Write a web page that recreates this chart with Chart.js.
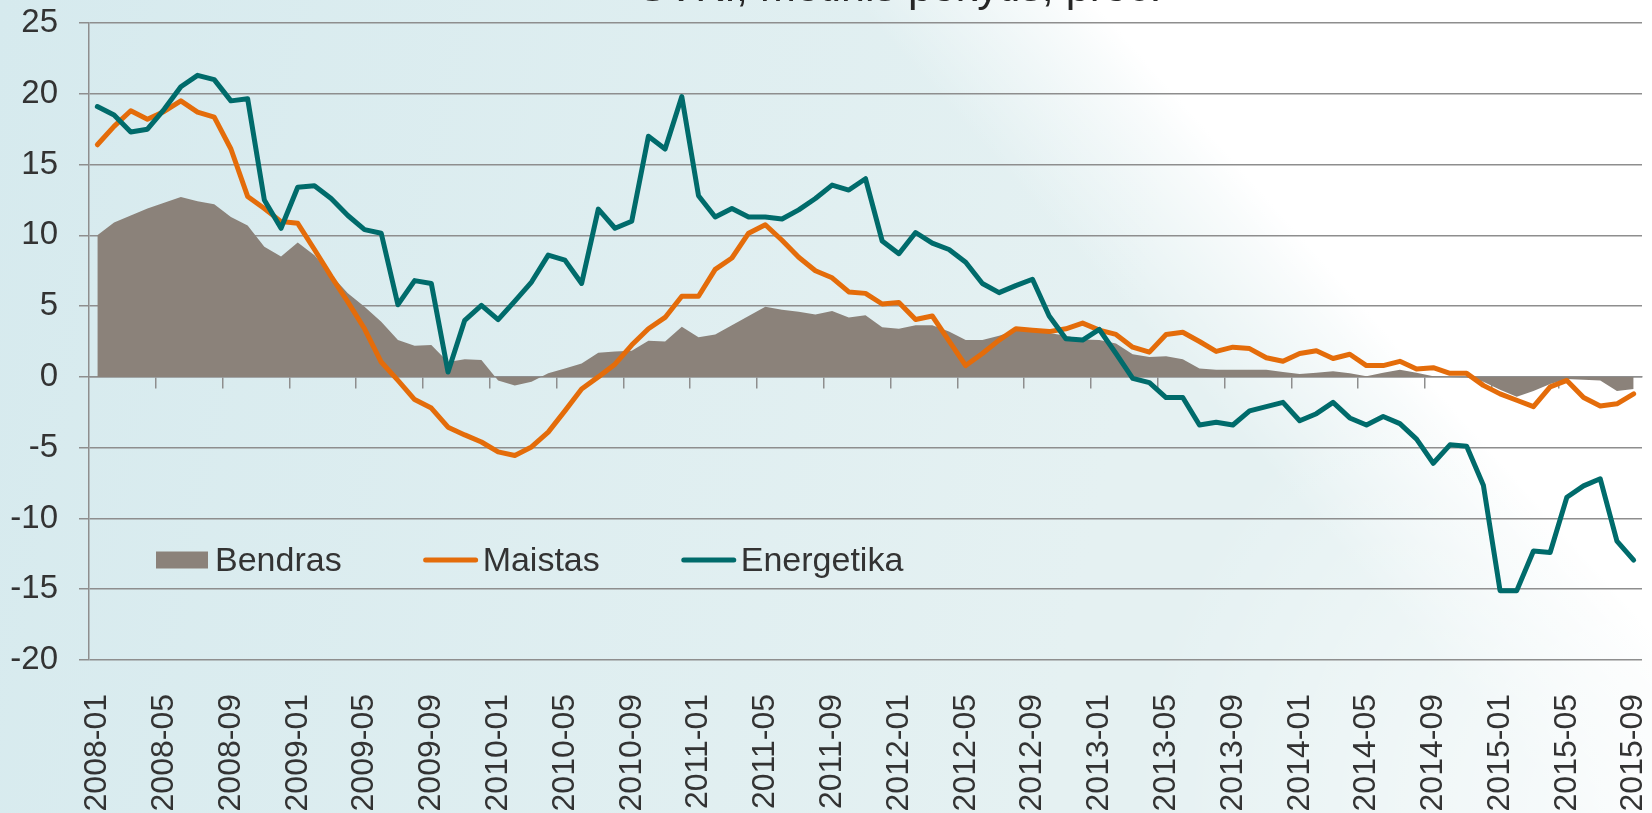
<!DOCTYPE html>
<html>
<head>
<meta charset="utf-8">
<script src="https://cdn.jsdelivr.net/npm/chart.js@4/dist/chart.umd.min.js"></script>
<style>
html,body{margin:0;padding:0;background:#fff;}
#wrap{position:relative;width:1652px;height:813px;}
</style>
</head>
<body>
<div id="wrap"><canvas id="c"></canvas></div>
<script>
// ---- DATA ----
const months = [
 '2008-01','2008-02','2008-03','2008-04','2008-05','2008-06','2008-07','2008-08','2008-09','2008-10','2008-11','2008-12',
 '2009-01','2009-02','2009-03','2009-04','2009-05','2009-06','2009-07','2009-08','2009-09','2009-10','2009-11','2009-12',
 '2010-01','2010-02','2010-03','2010-04','2010-05','2010-06','2010-07','2010-08','2010-09','2010-10','2010-11','2010-12',
 '2011-01','2011-02','2011-03','2011-04','2011-05','2011-06','2011-07','2011-08','2011-09','2011-10','2011-11','2011-12',
 '2012-01','2012-02','2012-03','2012-04','2012-05','2012-06','2012-07','2012-08','2012-09','2012-10','2012-11','2012-12',
 '2013-01','2013-02','2013-03','2013-04','2013-05','2013-06','2013-07','2013-08','2013-09','2013-10','2013-11','2013-12',
 '2014-01','2014-02','2014-03','2014-04','2014-05','2014-06','2014-07','2014-08','2014-09','2014-10','2014-11','2014-12',
 '2015-01','2015-02','2015-03','2015-04','2015-05','2015-06','2015-07','2015-08','2015-09'
];
const bendras = [
 10.0,10.9,11.4,11.9,12.3,12.7,12.4,12.2,11.3,10.7,9.2,8.5,
 9.5,8.6,7.2,5.9,4.95,3.9,2.6,2.2,2.25,1.05,1.25,1.2,
 -0.25,-0.6,-0.35,0.25,0.6,0.95,1.7,1.8,1.85,2.55,2.5,3.55,
 2.8,3.0,3.65,4.3,4.95,4.75,4.6,4.4,4.65,4.2,4.35,3.5,
 3.4,3.65,3.65,3.2,2.6,2.6,2.9,3.3,3.25,3.1,2.9,2.65,
 2.6,2.35,1.6,1.4,1.45,1.25,0.6,0.5,0.5,0.5,0.5,0.35,
 0.2,0.3,0.4,0.25,0.05,0.3,0.5,0.3,0.05,0.0,-0.05,-0.35,
 -0.9,-1.4,-1.0,-0.5,-0.15,-0.2,-0.25,-1.0,-0.85
];
const maistas = [
 16.4,17.7,18.8,18.2,18.75,19.5,18.7,18.35,16.1,12.75,11.9,10.97,
 10.85,9.0,7.1,5.3,3.4,1.05,-0.25,-1.6,-2.2,-3.55,-4.1,-4.6,
 -5.3,-5.55,-4.95,-3.9,-2.4,-0.85,0.0,0.9,2.25,3.4,4.2,5.7,
 5.7,7.6,8.4,10.15,10.75,9.65,8.45,7.5,7.0,6.0,5.9,5.15,
 5.25,4.05,4.3,2.55,0.8,1.65,2.6,3.4,3.3,3.2,3.4,3.8,
 3.3,3.0,2.1,1.75,3.0,3.15,2.5,1.8,2.1,2.0,1.35,1.1,
 1.65,1.85,1.3,1.6,0.8,0.8,1.1,0.55,0.65,0.25,0.25,-0.6,
 -1.2,-1.65,-2.1,-0.7,-0.25,-1.45,-2.05,-1.9,-1.2
];
const energetika = [
 19.1,18.5,17.3,17.5,18.9,20.5,21.3,21.0,19.5,19.65,12.5,10.5,
 13.4,13.5,12.6,11.4,10.4,10.15,5.1,6.8,6.6,0.35,4.0,5.05,
 4.05,5.35,6.7,8.6,8.25,6.6,11.85,10.5,11.0,17.0,16.1,19.8,
 12.8,11.3,11.9,11.3,11.3,11.15,11.8,12.6,13.55,13.2,14.0,9.6,
 8.7,10.2,9.45,9.0,8.1,6.6,5.95,6.45,6.9,4.3,2.7,2.6,
 3.35,1.65,-0.1,-0.4,-1.46,-1.46,-3.4,-3.2,-3.4,-2.4,-2.1,-1.8,
 -3.1,-2.6,-1.8,-2.9,-3.4,-2.8,-3.3,-4.4,-6.1,-4.8,-4.9,-7.65,
 -15.1,-15.1,-12.3,-12.4,-8.5,-7.7,-7.2,-11.6,-12.95
];
const seriesNames = ['Bendras','Maistas','Energetika'];
const yMin = -20, yMax = 25, yStep = 5;
const titleText = 'SVKI, metinis pokytis, proc.';

// ---- STYLE ----
const FONT = "'Liberation Sans', Arial, sans-serif";
const GRID = '#8e8e8e';
const TXT = '#333333';
const C_B = '#8b827a', C_M = '#e46c0a', C_E = '#006b6b';

const bgPlugin = {
  id: 'bg',
  beforeDraw(chart) {
    const {ctx, width, height} = chart;
    ctx.save();
    const g = ctx.createLinearGradient(0, 0, width * 0.7, height * 0.3);
    g.addColorStop(0, '#d6eaee');
    g.addColorStop(1, '#e5f1f2');
    ctx.fillStyle = g;
    ctx.fillRect(0, 0, width, height);
    const nx = 0.749, ny = -0.663, px = 1052, py = 0;
    const g2 = ctx.createLinearGradient(px - nx * 150, py - ny * 150, px + nx * 30, py + ny * 30);
    g2.addColorStop(0, 'rgba(255,255,255,0)');
    g2.addColorStop(0.5, 'rgba(255,255,255,0.45)');
    g2.addColorStop(0.8, 'rgba(255,255,255,0.75)');
    g2.addColorStop(1, 'rgba(255,255,255,1)');
    ctx.fillStyle = g2;
    ctx.fillRect(0, 0, width, height);
    const g3 = ctx.createRadialGradient(width, height, 0, width, height, 520);
    g3.addColorStop(0, 'rgba(255,255,255,0.8)');
    g3.addColorStop(1, 'rgba(255,255,255,0)');
    ctx.fillStyle = g3;
    ctx.fillRect(0, 0, width, height);
    // cut title (only its lower part is visible)
    ctx.fillStyle = '#262626';
    ctx.font = '43px ' + FONT;
    ctx.textAlign = 'left';
    ctx.textBaseline = 'alphabetic';
    ctx.fillText(titleText, 638, 0.5);
    ctx.restore();
  }
};

const legendPlugin = {
  id: 'customLegend',
  afterDatasetsDraw(chart) {
    const {ctx, chartArea} = chart;
    const x0 = chartArea.left + 67;
    const cy = chartArea.top + 537;
    const sw = 54, gap = 5, spacing = 82;
    ctx.save();
    ctx.font = '34px ' + FONT;
    ctx.textBaseline = 'alphabetic';
    ctx.textAlign = 'left';
    let x = x0;
    chart.data.datasets.forEach((ds, i) => {
      if (i === 0) {
        ctx.fillStyle = ds.backgroundColor;
        ctx.fillRect(x, cy - 8.5, sw - 2, 17);
      } else {
        ctx.strokeStyle = ds.borderColor;
        ctx.lineWidth = 5;
        ctx.lineCap = 'round';
        ctx.beginPath();
        ctx.moveTo(x + 2, cy);
        ctx.lineTo(x + sw - 2, cy);
        ctx.stroke();
      }
      ctx.fillStyle = TXT;
      const tx = x + sw + gap;
      ctx.fillText(ds.label, tx, cy + 11);
      x = tx + ctx.measureText(ds.label).width + spacing;
    });
    ctx.restore();
  }
};

new Chart(document.getElementById('c'), {
  type: 'line',
  data: {
    labels: months,
    datasets: [
      {label: seriesNames[0], data: bendras, fill: 'origin', backgroundColor: C_B, borderColor: C_B,
       borderWidth: 0, pointRadius: 0, tension: 0, order: 3},
      {label: seriesNames[1], data: maistas, fill: false, borderColor: C_M, backgroundColor: C_M,
       borderWidth: 5, pointRadius: 0, tension: 0, borderJoinStyle: 'round', borderCapStyle: 'round', order: 2},
      {label: seriesNames[2], data: energetika, fill: false, borderColor: C_E, backgroundColor: C_E,
       borderWidth: 5, pointRadius: 0, tension: 0, borderJoinStyle: 'round', borderCapStyle: 'round', order: 1}
    ]
  },
  options: {
    responsive: true,
    maintainAspectRatio: false,
    animation: false,
    events: [],
    layout: {padding: {top: 23, right: 10, left: 0, bottom: 0}},
    plugins: {legend: {display: false}, tooltip: {enabled: false}, title: {display: false}},
    scales: {
      x: {
        type: 'category', offset: true, position: 'bottom',
        grid: {display: false, drawTicks: false},
        border: {display: false},
        ticks: {
          autoSkip: false, minRotation: 90, maxRotation: 90, padding: 34,
          color: TXT, font: {size: 32, family: FONT},
          callback: (v, i) => (i % 4 === 0 ? months[i] : '')
        },
        afterFit: s => { s.height = 153; s.paddingLeft = 0; s.paddingRight = 0; }
      },
      x2: {
        type: 'category', offset: true, position: {y: 0},
        grid: {
          offset: true, drawOnChartArea: false, drawTicks: true, tickLength: 11, lineWidth: 1.5,
          color: c => (c.index > 0 && c.index % 4 === 0 ? GRID : 'rgba(0,0,0,0)')
        },
        border: {display: true, color: GRID, width: 1.5},
        ticks: {display: false},
        afterFit: s => { s.height = 0; s.paddingLeft = 0; s.paddingRight = 0; }
      },
      y: {
        min: yMin, max: yMax,
        grid: {color: GRID, lineWidth: 1.5, drawTicks: true, tickLength: 10},
        border: {display: true, color: GRID, width: 1.5},
        ticks: {stepSize: yStep, padding: 21, color: TXT, font: {size: 33, family: FONT}},
        afterFit: s => { s.width = 89; s.paddingTop = 0; s.paddingBottom = 0; }
      }
    }
  },
  plugins: [bgPlugin, legendPlugin]
});
</script>
</body>
</html>
